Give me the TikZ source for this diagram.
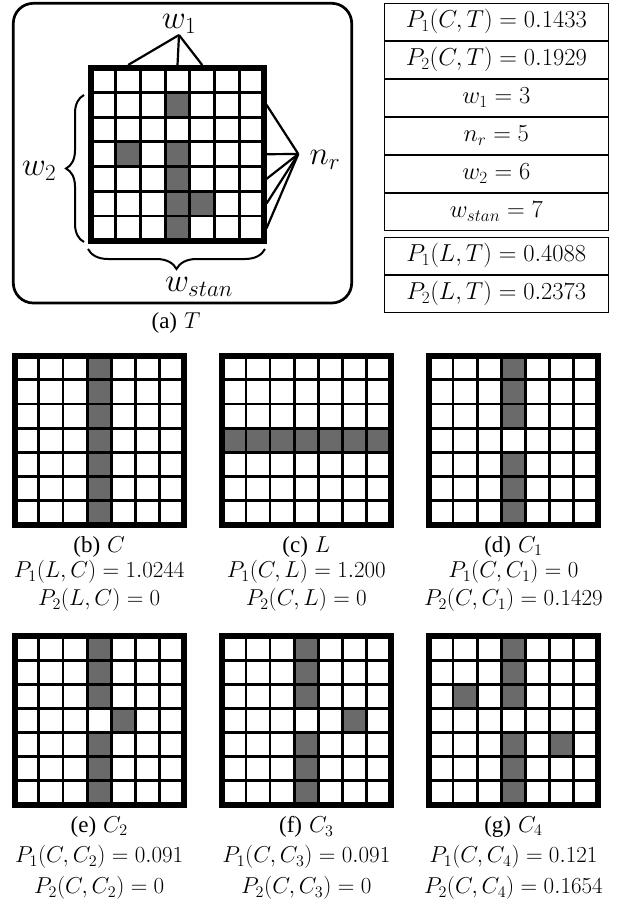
\RequirePackage{fix-cm}
\documentclass[tikz,border=0pt]{standalone}
\usepackage[no-math]{fontspec}
\newfontfamily\capfont{Liberation Serif}
\usetikzlibrary{positioning,decorations.pathreplacing}
\definecolor{cellgray}{RGB}{106,106,106}

% 7x7 pattern: top-left corner of frame, side length, gray cells (row/col)
\newcommand{\patgrid}[3]{%
  \begin{scope}[shift={#1}]
    \foreach \rw/\cl in {#3}
      \fill[cellgray] ({\cl*#2/7},{\rw*#2/7}) rectangle ++({#2/7},{#2/7});
    \foreach \k in {1,...,6} {
      \draw[gridline] ({\k*#2/7},0) -- ({\k*#2/7},#2);
      \draw[gridline] (0,{\k*#2/7}) -- (#2,{\k*#2/7});
    }
    \draw[gridframe] (0,0) rectangle (#2,#2);
  \end{scope}}

\begin{document}
\begin{tikzpicture}[x=1pt, y=-1pt,
    cellbox/.style={draw, line width=1.2pt, minimum width=224pt, minimum height=36.8pt,
                    inner sep=0pt, font=\fontsize{24.5}{29}\selectfont},
    lbl/.style={font=\fontsize{33}{40}\selectfont, inner sep=1pt},
    captext/.style={font=\fontsize{23}{28}\selectfont, inner sep=0pt},
    gridline/.style={line width=2.8pt},
    gridframe/.style={line width=6pt},
    conn/.style={line width=2.2pt},
    bracket/.style={decorate, line width=2pt},
    panel/.style={line width=2.7pt, rounded corners=20pt},
    node distance=0pt
]
\useasboundingbox (0,0) rectangle (618,903);

% (a) the template T
\draw[panel] (13.3,3.3) rectangle (351.7,303);
\patgrid{(91,67.7)}{173}{1/3,3/1,3/3,4/3,5/3,5/4,6/3}

% window labels
\coordinate (w1tip) at (179,35);
\node[lbl, above=0pt of w1tip] (w1) {$w_1$};
\foreach \cl in {1,3,4} {
  \coordinate (top\cl) at ({91+(\cl+0.5)*173/7},65);
  \draw[conn] (w1tip) -- (top\cl);
}

\coordinate (nrtip) at (298.3,154);
\node[lbl, right=10pt of nrtip, yshift=-6pt] (nr) {$n_r$};
\foreach \rw in {1,3,4,5,6} {
  \coordinate (side\rw) at (266.5,{67.7+(\rw+0.5)*173/7});
  \draw[conn] (side\rw) -- (nrtip);
}

\coordinate (w2lo) at (84,242);
\coordinate (w2hi) at (84,95);
\draw[bracket, decoration={brace, amplitude=18pt}] (w2lo) -- (w2hi);
\node[lbl] (w2) at (39,171) {$w_2$};

\coordinate (wsr) at (265,249);
\coordinate (wsl) at (88,249);
\draw[bracket, decoration={brace, amplitude=20pt}] (wsr) -- (wsl);
\node[lbl] (wstan) at (199,287) {$w_{stan}$};

\node[captext] (capa) at (176,323) {{\capfont (a)} $T$};

% values table
\node[cellbox] (p1ct) at (496.3,21.7) {$P_1(C,T) = 0.1433$};
\node[cellbox, below=of p1ct] (p2ct) {$P_2(C,T) = 0.1929$};
\node[cellbox, below=of p2ct] (vw1) {$w_1 = 3$};
\node[cellbox, below=of vw1] (vnr) {$n_r = 5$};
\node[cellbox, below=of vnr] (vw2) {$w_2 = 6$};
\node[cellbox, below=of vw2] (vwst) {$w_{stan} = 7$};
\node[cellbox, below=6pt of vwst] (p1lt) {$P_1(L,T) = 0.4088$};
\node[cellbox, below=of p1lt] (p2lt) {$P_2(L,T) = 0.2373$};

% (b)-(d)
\patgrid{(14.7,355.7)}{169}{0/3,1/3,2/3,3/3,4/3,5/3,6/3}
\patgrid{(221.8,355.7)}{169}{3/0,3/1,3/2,3/3,3/4,3/5,3/6}
\patgrid{(428.9,355.7)}{169}{0/3,1/3,2/3,4/3,5/3,6/3}

\node[captext] (capb) at (99.2,547) {{\capfont (b)} $C$};
\node[captext] (p1lc) at (99.2,572) {$P_1(L,C) = 1.0244$};
\node[captext] (p2lc) at (99.2,600) {$P_2(L,C) = 0$};
\node[captext] (capc) at (306.3,547) {{\capfont (c)} $L$};
\node[captext] (p1cl) at (306.3,572) {$P_1(C,L) = 1.200$};
\node[captext] (p2cl) at (306.3,600) {$P_2(C,L) = 0$};
\node[captext] (capd) at (513.4,547) {{\capfont (d)} $C_1$};
\node[captext] (p1c1) at (513.4,572) {$P_1(C,C_1) = 0$};
\node[captext] (p2c1) at (513.4,600) {$P_2(C,C_1) = 0.1429$};

% (e)-(g)
\patgrid{(14.7,636)}{169}{0/3,1/3,2/3,4/3,5/3,6/3,3/4}
\patgrid{(221.8,636)}{169}{0/3,1/3,2/3,4/3,5/3,6/3,3/5}
\patgrid{(428.9,636)}{169}{0/3,1/3,2/3,4/3,5/3,6/3,2/1,4/5}

\node[captext] (cape) at (99.2,827) {{\capfont (e)} $C_2$};
\node[captext] (p1c2) at (99.2,857) {$P_1(C,C_2) = 0.091$};
\node[captext] (p2c2) at (99.2,888) {$P_2(C,C_2) = 0$};
\node[captext] (capf) at (306.3,827) {{\capfont (f)} $C_3$};
\node[captext] (p1c3) at (306.3,857) {$P_1(C,C_3) = 0.091$};
\node[captext] (p2c3) at (306.3,888) {$P_2(C,C_3) = 0$};
\node[captext] (capg) at (513.4,827) {{\capfont (g)} $C_4$};
\node[captext] (p1c4) at (513.4,857) {$P_1(C,C_4) = 0.121$};
\node[captext] (p2c4) at (513.4,888) {$P_2(C,C_4) = 0.1654$};

\end{tikzpicture}
\end{document}
